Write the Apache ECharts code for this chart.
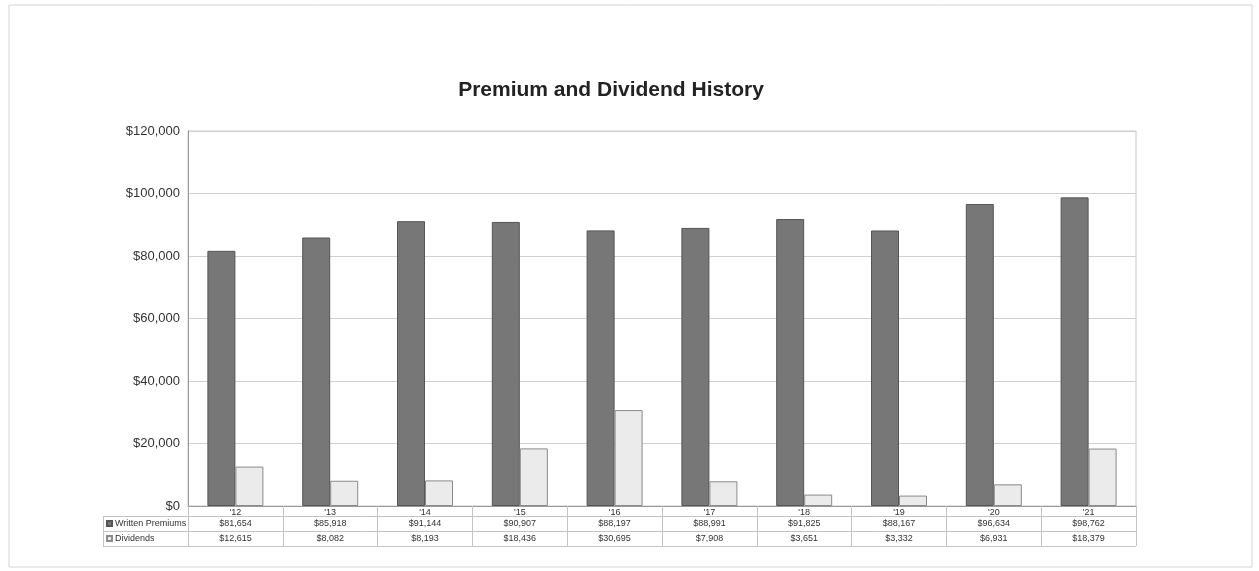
<!DOCTYPE html>
<html>
<head>
<meta charset="utf-8">
<script src="https://cdn.jsdelivr.net/npm/echarts@6/dist/echarts.min.js"></script>
<style>
  html, body { margin: 0; padding: 0; background: #fff; }
  #chart-container { width: 1259px; height: 571px; }
</style>
</head>
<body>
<div id="chart-container"></div>
<script>
var years = ["'12", "'13", "'14", "'15", "'16", "'17", "'18", "'19", "'20", "'21"];
var writtenPremiums = [81654, 85918, 91144, 90907, 88197, 88991, 91825, 88167, 96634, 98762];
var dividends = [12615, 8082, 8193, 18436, 30695, 7908, 3651, 3332, 6931, 18379];

function money(v) {
    return '$' + v.toString().replace(/\B(?=(\d{3})+(?!\d))/g, ',');
}

var chartDom = document.getElementById('chart-container');
var chart = echarts.init(chartDom);

var lineStyle = { stroke: '#c4c4c4', lineWidth: 1 };

var option = {
    animation: false,
    textStyle: { fontFamily: 'Liberation Sans, Arial, sans-serif' },
    title: {
        text: 'Premium and Dividend History',
        left: 606,
        top: 75,
        textAlign: 'center',
        textStyle: { fontSize: 21, fontWeight: 'bold', color: '#222' }
    },
    legend: {
        orient: 'vertical',
        left: 106,
        top: 519,
        padding: 0,
        itemWidth: 5,
        itemHeight: 5,
        itemGap: 6,
        icon: 'rect',
        selectedMode: false,
        textStyle: { fontSize: 9, color: '#333', padding: [0, 0, 0, -2] },
        data: ['Written Premiums', 'Dividends']
    },
    grid: {
        left: 188, top: 131, right: 123, bottom: 65,
        show: true, borderColor: '#c8c8c8', borderWidth: 1
    },
    xAxis: [
        {
            type: 'category',
            data: years,
            position: 'bottom',
            axisLine: { lineStyle: { color: '#999' } },
            axisTick: { show: true, length: 40, lineStyle: { color: '#c4c4c4' } },
            axisLabel: { fontSize: 9, color: '#333', margin: 2 }
        },
        {
            type: 'category',
            data: writtenPremiums.map(money),
            position: 'bottom',
            offset: 11,
            axisLine: { show: false },
            axisTick: { show: false },
            axisLabel: { fontSize: 9, color: '#333', margin: 2 }
        },
        {
            type: 'category',
            data: dividends.map(money),
            position: 'bottom',
            offset: 26,
            axisLine: { show: false },
            axisTick: { show: false },
            axisLabel: { fontSize: 9, color: '#333', margin: 2 }
        }
    ],
    yAxis: {
        type: 'value',
        min: 0,
        max: 120000,
        interval: 20000,
        axisLine: { show: true, lineStyle: { color: '#999' } },
        axisTick: { show: false },
        splitLine: { lineStyle: { color: '#d0d0d0' } },
        axisLabel: {
            fontSize: 13, color: '#333', margin: 8,
            formatter: function (v) { return money(v); }
        }
    },
    series: [
        {
            name: 'Written Premiums',
            type: 'bar',
            data: writtenPremiums,
            barWidth: 28,
            barGap: 0,
            itemStyle: { color: '#777777', borderColor: '#555555', borderWidth: 1 }
        },
        {
            name: 'Dividends',
            type: 'bar',
            data: dividends,
            barWidth: 28,
            itemStyle: { color: '#ebebeb', borderColor: '#8a8a8a', borderWidth: 1 }
        }
    ],
    graphic: [
        // outer frame
        { type: 'rect', shape: { x: 9, y: 5, width: 1243, height: 562 }, style: { fill: 'none', stroke: '#d4d4d4', lineWidth: 1 }, silent: true },
        // data table borders
        { type: 'line', shape: { x1: 103, y1: 516.5, x2: 1136, y2: 516.5 }, style: lineStyle, silent: true },
        { type: 'line', shape: { x1: 103, y1: 531.5, x2: 1136, y2: 531.5 }, style: lineStyle, silent: true },
        { type: 'line', shape: { x1: 103, y1: 546.5, x2: 1136, y2: 546.5 }, style: lineStyle, silent: true },
        { type: 'line', shape: { x1: 103.5, y1: 516, x2: 103.5, y2: 547 }, style: lineStyle, silent: true },
        { type: 'line', shape: { x1: 188.5, y1: 506, x2: 188.5, y2: 547 }, style: lineStyle, silent: true }
    ]
};

chart.setOption(option);
window.addEventListener('resize', chart.resize);
</script>
</body>
</html>
